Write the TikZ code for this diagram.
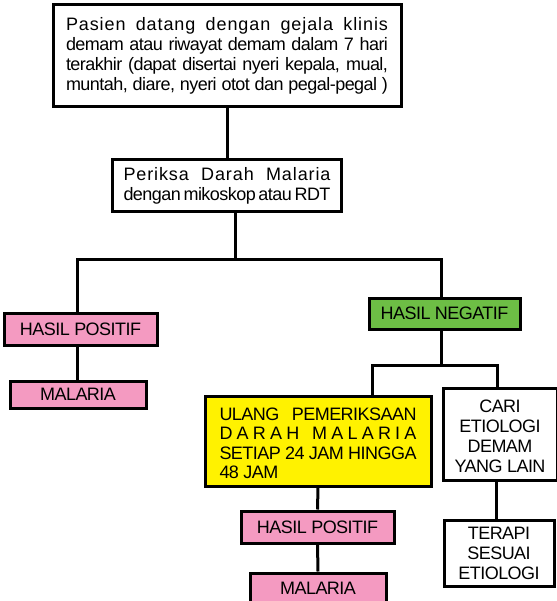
\documentclass[tikz,border=0pt]{standalone}
\usepackage{fontspec}
\setmainfont{Liberation Sans}[LetterSpace=-3]
\definecolor{posPink}{HTML}{F49AC1}
\definecolor{negGreen}{HTML}{6DBE45}
\definecolor{repYellow}{HTML}{FFF200}
% a justified line of the given width, spaces may stretch or shrink
\newcommand{\jline}[2]{\hbox to #1{\spaceskip=0.25em plus 1fil minus 0.12em #2}}
% the same, with the letters spread apart
\newcommand{\wline}[2]{\hbox to #1{\addfontfeature{LetterSpace=5}\spaceskip=0.25em plus 1fil minus 0.12em #2}}
\begin{document}
\begin{tikzpicture}[x=1pt,y=-1pt,
  box/.style={draw=black, line width=3pt, rectangle, inner sep=0pt,
    font=\fontsize{18}{20}\selectfont, align=center},
  link/.style={draw=black, line width=3pt, line join=miter}]
\useasboundingbox (0,0) rectangle (556,601);

% boxes
\node[box, fill=white, minimum width=348pt, minimum height=102pt] (start) at (227,55.5)
  {\wline{322pt}{Pasien datang dengan gejala klinis}\\
   \jline{322pt}{demam atau riwayat demam dalam 7 hari}\\
   \jline{322pt}{terakhir (dapat disertai nyeri kepala, mual,}\\
   \jline{322pt}{muntah, diare, nyeri otot dan pegal-pegal )}};
\node[box, fill=white, minimum width=229pt, minimum height=52pt] (exam) at (227,185.5)
  {\wline{207pt}{Periksa Darah Malaria}\\
   \jline{207pt}{dengan mikoskop atau RDT}};
\node[box, fill=posPink, minimum width=153pt, minimum height=32pt] (posA) at (80.5,329) {HASIL POSITIF};
\node[box, fill=posPink, minimum width=136pt, minimum height=27pt] (malA) at (78,394.5) {MALARIA};
\node[box, fill=negGreen, minimum width=151pt, minimum height=31pt] (neg) at (444.5,313.5) {HASIL NEGATIF};
\node[box, fill=repYellow, minimum width=226pt, minimum height=90pt, align=left,
      font=\fontsize{18}{19.5}\selectfont] (repeat) at (318,441)
  {\rule{0pt}{17pt}\jline{197pt}{ULANG PEMERIKSAAN}\\
   \jline{197pt}{D A R A H \ \ M A L A R I A}\\
   \jline{197pt}{SETIAP 24 JAM HINGGA}\\
   48 JAM};
\node[box, fill=white, minimum width=114pt, minimum height=92pt] (other) at (500,434)
  {\rule{0pt}{17pt}CARI\\ETIOLOGI\\DEMAM\\YANG LAIN};
\node[box, fill=white, minimum width=110pt, minimum height=66pt] (therapy) at (499,553)
  {TERAPI\\SESUAI\\ETIOLOGI};
\node[box, fill=posPink, minimum width=153pt, minimum height=32pt] (posB) at (317.5,527) {HASIL POSITIF};
\node[box, fill=posPink, minimum width=136pt, minimum height=30pt] (malB) at (318,588) {MALARIA};

% branch points
\coordinate (splitA) at (235,259);
\coordinate (leftA) at (77,259);
\coordinate (rightA) at (441,259);
\coordinate (splitB) at (441,365);
\coordinate (leftB) at (372,365);
\coordinate (rightB) at (497,365);
\coordinate (colC) at (496,0);

% connectors
\draw[link] (start.south) -- (exam.north);
\draw[link] (exam.south -| splitA) -- (splitA);
\draw[link] (posA.north -| leftA) -- (leftA) -- (rightA) -- (neg.north -| rightA);
\draw[link] (posA.south -| leftA) -- (malA.north -| leftA);
\draw[link] (neg.south -| splitB) -- (splitB);
\draw[link] (repeat.north -| leftB) -- (leftB) -- (rightB) -- (other.north -| rightB);
\draw[link] (repeat.south) -- (posB.north);
\draw[link] (posB.south) -- (malB.north);
\draw[link] (other.south -| colC) -- (therapy.north -| colC);
\end{tikzpicture}
\end{document}
